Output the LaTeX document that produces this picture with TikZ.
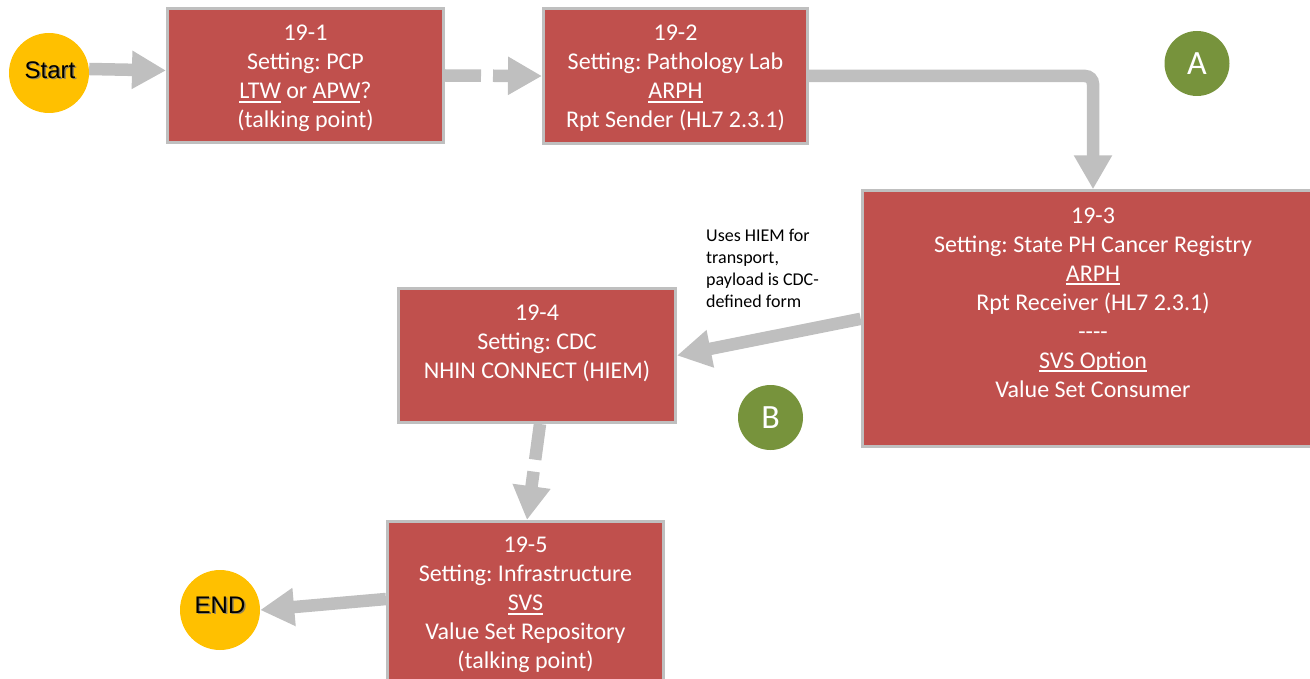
\documentclass[tikz,border=0pt]{standalone}
\usepackage{fontspec}
\setmainfont{Carlito}
\newfontfamily\arialf{Liberation Sans}
\usetikzlibrary{arrows.meta,calc}
\definecolor{boxred}{HTML}{C0504D}
\definecolor{lgray}{HTML}{BFBFBF}
\definecolor{gold}{HTML}{FFC000}
\definecolor{olivegreen}{HTML}{77933C}
\newcommand\myul[1]{\leavevmode\setbox0=\hbox{#1}\rlap{\rule[-4pt]{\wd0}{1.8pt}}\box0\relax}
\newcommand\boxfont{\fontsize{24}{29}\selectfont}
\newcommand\notefont{\fontsize{18}{22}\selectfont}
\frenchspacing
\begin{document}
\frenchspacing
\begin{tikzpicture}[x=1pt,y=-1pt,
  box/.style={rectangle, draw=lgray, line width=3pt, fill=boxred, inner sep=0pt},
  boxtext/.style={text=white, font=\boxfont\frenchspacing, align=center, anchor=north, inner sep=0pt},
  flow/.style={draw=lgray, line width=12.5pt, -{Triangle[length=34pt,width=36pt]}},
  flowdash/.style={flow, dash pattern=on 36pt off 12pt},
  term/.style={circle, fill=gold, minimum size=80pt, inner sep=0pt},
  termtext/.style={font=\arialf\fontsize{24}{29}\selectfont, inner sep=0pt},
  badge/.style={circle, fill=olivegreen, minimum size=65pt, inner sep=0pt, text=white, font=\fontsize{34}{40}\selectfont},
  note/.style={font=\notefont\frenchspacing, align=left, anchor=north west, inner sep=0pt}]
\useasboundingbox (0,0) rectangle (1310,679);
\clip (0,0) rectangle (1310,679);

% boxes
\node[box, minimum width=276pt, minimum height=134pt] (b1) at (305.5,75.5) {};
\node[box, minimum width=264pt, minimum height=135pt] (b2) at (675.5,76) {};
\node[box, minimum width=461.6pt, minimum height=256pt] (b3) at (1093,318.8) {};
\node[box, minimum width=277pt, minimum height=134pt] (b4) at (537,355.5) {};
\node[box, minimum width=276pt, minimum height=200pt] (b5) at (525.5,621.5) {};

% box texts
\node[boxtext] (t1) at (305.5,20.4) {\strut 19-1\\Setting: PCP\\\myul{LTW} or \myul{APW}?\\(talking point)};
\node[boxtext] (t2) at (675.5,20.4) {\strut 19-2\\Setting: Pathology Lab\\\myul{ARPH}\\Rpt Sender (HL7 2.3.1)};
\node[boxtext] (t3) at (1093,202.7) {\strut 19-3\\Setting: State PH Cancer Registry\\\myul{ARPH}\\Rpt Receiver (HL7 2.3.1)\\-{}-{}-{}-\\\myul{SVS Option}\\Value Set Consumer};
\node[boxtext] (t4) at (537,300.4) {\strut 19-4\\Setting: CDC\\NHIN CONNECT (HIEM)};
\node[boxtext] (t5) at (525.5,532.4) {\strut 19-5\\Setting: Infrastructure\\\myul{SVS}\\Value Set Repository\\(talking point)};

% terminals
\node[term] (start) at (49,73) {};
\node[termtext, text=black!55, opacity=0.8] (startsh) at (51.5,71.5) {Start};
\node[termtext, text=black] (starttxt) at (50,70) {Start};
\node[term] (end) at (220,610) {};
\node[termtext, text=black!55, opacity=0.8] (endsh) at (221.5,606.5) {END};
\node[termtext, text=black] (endtxt) at (220,605) {END};

% badges
\node[badge] (ba) at (1197,63.5) {A};
\node[badge] (bb) at (770.5,417.5) {B};

% note
\node[note] (n1) at (706,225.6) {\strut Uses HIEM for\\transport,\\payload is CDC-\\defined form};

% connectors
\draw[flow] ([yshift=4pt]start.east) -- ([yshift=5pt]b1.west);
\draw[flowdash] (b1.east) -- (b2.west);
\draw[flow, rounded corners=8pt] (b2.east) -| (b3.north);
\draw[flow] (b3.west) -- (b4.east);
\draw[flowdash] ([xshift=3pt]b4.south) -- ([xshift=1.5pt]b5.north);
\draw[flow] ($(b5.north west)+(0,79)$) -- (end.east);
\end{tikzpicture}
\end{document}
